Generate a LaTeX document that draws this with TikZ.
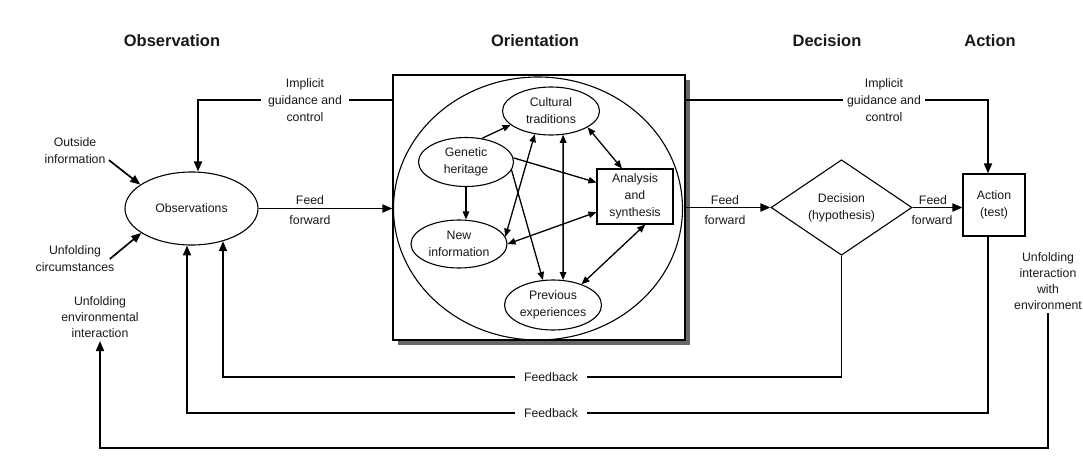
\documentclass[tikz,border=0pt]{standalone}
\usepackage{fontspec}
\setmainfont{Liberation Sans}
\usetikzlibrary{shapes.geometric,arrows.meta,shadows}

\tikzset{
  txt/.style={font=\fontsize{12.3}{17}\selectfont, align=center, text=black!90},
  head/.style={font=\fontsize{16.5}{20}\selectfont\bfseries, text=black!90},
  oval/.style={txt, draw, ellipse, line width=1.1pt, inner sep=0pt},
  flow/.style={line width=1.7pt, -{Triangle[length=10pt,width=8pt]}},
  link/.style={line width=1.3pt, -{Triangle[length=8pt,width=6.5pt]}},
  both/.style={link, {Triangle[length=8pt,width=6.5pt]}-{Triangle[length=8pt,width=6.5pt]}},
  gap/.style={txt, fill=white, inner sep=4pt},
}

\begin{document}
\begin{tikzpicture}[x=1pt, y=-1pt]
    \useasboundingbox (0,0) rectangle (1083,463);

    % headings
    \node[head] (hobs) at (172,41) {Observation};
    \node[head] (hori) at (535,41) {Orientation};
    \node[head] (hdec) at (827,41) {Decision};
    \node[head] (hact) at (990,41) {Action};

    % orientation box
    \node[draw, line width=1.1pt, fill=white, minimum width=292pt, minimum height=265pt,
        drop shadow={shadow xshift=5pt, shadow yshift=-5pt, fill=black!60, opacity=1}]
        (orient) at (539,207.5) {};
    \node[draw, ellipse, line width=1.1pt, minimum width=289pt, minimum height=263pt]
        (ring) at (538,208.5) {};

    \node[oval, minimum width=97pt, minimum height=48pt] (cult) at (551,111) {Cultural\\traditions};
    \node[oval, minimum width=95pt, minimum height=49pt] (gen) at (466,162) {Genetic\\heritage};
    \node[oval, minimum width=96pt, minimum height=48pt] (new) at (459,244) {New\\information};
    \node[oval, minimum width=97pt, minimum height=50pt] (prev) at (553,305) {Previous\\experiences};
    \node[txt, draw, line width=1.1pt, inner sep=0pt, minimum width=76pt, minimum height=55pt]
        (ana) at (635,196.5) {Analysis\\and\\synthesis};

    % observation, decision, action
    \node[oval, minimum width=133pt, minimum height=73pt] (obs) at (191.5,208.5) {Observations};
    \node[txt, draw, diamond, line width=1.1pt, inner sep=0pt, minimum width=141pt, minimum height=75pt]
        (dec) at (841.5,207.5) {Decision\\(hypothesis)};
    \node[txt, draw, line width=1.1pt, minimum width=62pt, minimum height=62pt]
        (act) at (994,205) {Action\\(test)};

    % outside texts
    \node[txt] (outinfo) at (75,151) {Outside\\information};
    \node[txt] (circ) at (75,259) {Unfolding\\circumstances};
    \node[txt, font=\fontsize{12.3}{16}\selectfont] (envint) at (100,317) {Unfolding\\environmental\\interaction};
    \node[txt, font=\fontsize{12.3}{16}\selectfont] (intenv) at (1048,281) {Unfolding\\interaction\\with\\environment};

    % corners of the loops
    \coordinate (igl) at (198,100);
    \coordinate (igr) at (988,100);
    \coordinate (fb1) at (223,377);
    \coordinate (fb2) at (187,413);
    \coordinate (fb3) at (100,448);

    % inner links
    \draw[link] (gen.56) -- (cult.199);
    \draw[link] (gen.5) -- (ana.160);
    \draw[link] (gen.south) -- (gen.south |- new.north);
    \draw[link] (gen.-10) -- (prev.112);
    \draw[both] (new.9) -- (cult.235);
    \draw[both] (new.0) -- (ana.202);
    \draw[both] (cult.-63) -- (prev.68);
    \draw[both] (cult.-24) -- (ana.115);
    \draw[both] (ana.-70) -- (prev.36);

    % flow lines
    \draw[flow] (outinfo.-15) -- (obs.155);
    \draw[flow] ([xshift=-8pt]circ.east) -- (obs.206);
    \draw[flow] (orient.west |- igl) -- (igl) -- (igl |- obs.north);
    \draw[flow] (orient.east |- igr) -- (igr) -- ([xshift=-6pt]act.north);
    \draw[flow] (obs.east) -- (obs.east -| orient.west);
    \draw[flow] (orient.east |- dec.west) -- (dec.west);
    \draw[flow] (dec.east) -- (dec.east -| act.west);

    % feedback loops
    \draw[flow] (dec.south) |- (fb1) -- (fb1 |- obs.-46);
    \draw[flow] ([xshift=-6pt]act.south) |- (fb2) -- (fb2 |- obs.-97);
    \draw[flow] (intenv.south) |- (fb3) -- (envint.south);

    % labels
    \node[gap, inner xsep=7pt] (igltxt) at (305,100) {Implicit\\guidance and\\control};
    \node[gap] (igrtxt) at (884,100) {Implicit\\guidance and\\control};
    \node[gap, inner xsep=9pt] (fb1txt) at (551,377) {Feedback};
    \node[gap, inner xsep=9pt] (fb2txt) at (551,413) {Feedback};
    \node[txt, above] (ff1a) at (310,208) {Feed};
    \node[txt, below=4pt] (ff1b) at (310,208) {forward};
    \node[txt, above] (ff2a) at (725,208) {Feed};
    \node[txt, below=4pt] (ff2b) at (725,208) {forward};
    \node[txt, above] (ff3a) at (933,208) {Feed};
    \node[txt, below=4pt] (ff3b) at (932,208) {forward};

\end{tikzpicture}
\end{document}
